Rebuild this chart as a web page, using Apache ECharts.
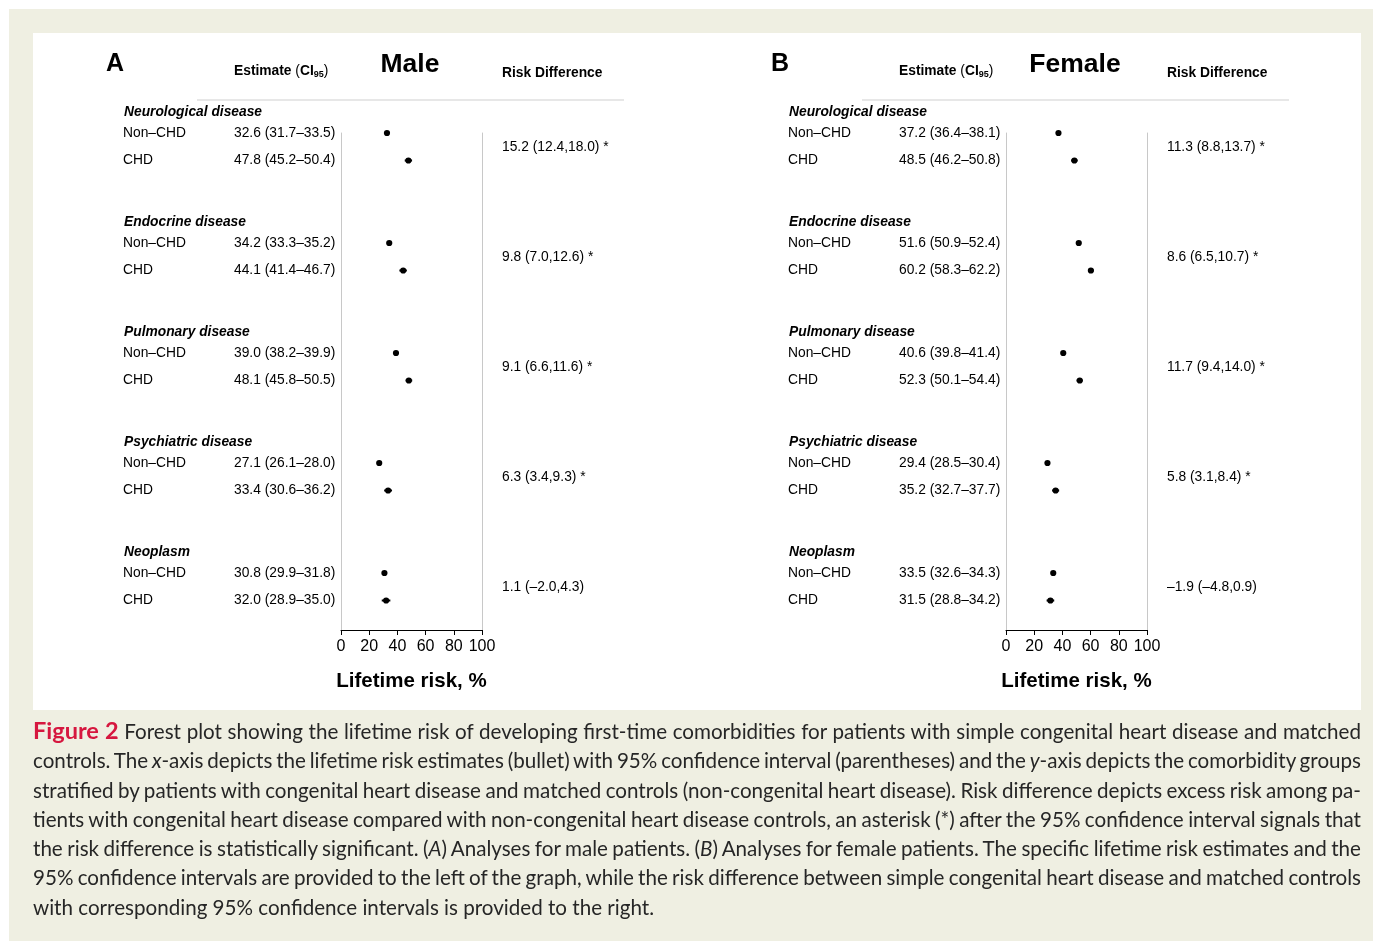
<!DOCTYPE html>
<html>
<head>
<meta charset="utf-8">
<script src="https://cdn.jsdelivr.net/npm/echarts@6/dist/echarts.min.js"></script>
<style>
  html, body { margin: 0; padding: 0; background: #ffffff; width: 1373px; height: 941px; overflow: hidden; }
  #beige { position: absolute; left: 9px; top: 9px; width: 1364px; height: 932px; background: #efefe2; }
  #panel { position: absolute; left: 33px; top: 33px; width: 1328px; height: 677px; background: #ffffff; }
  #chart { position: absolute; left: 0; top: 0; width: 1373px; height: 941px; }
  #cap { position: absolute; left: 33px; top: 716px; width: 1328px; font-family: Lato, "Open Sans", sans-serif; font-size: 20.6px; line-height: 29.3px; color: #262626; }
  #cap div { white-space: nowrap; }
  #cap span.ln { display: inline-block; white-space: nowrap; }
  #cap .fig { color: #d6173f; font-weight: bold; font-size: 23.5px; }
</style>
</head>
<body>
<div id="beige"></div>
<div id="panel"></div>
<div id="chart"></div>
<div id="cap">
  <div><span class="ln j"><span class="fig">Figure 2</span> Forest plot showing the lifetime risk of developing first-time comorbidities for patients with simple congenital heart disease and matched</span></div>
  <div><span class="ln j">controls. The <i>x</i>-axis depicts the lifetime risk estimates (bullet) with 95% confidence interval (parentheses) and the <i>y</i>-axis depicts the comorbidity groups</span></div>
  <div><span class="ln j">stratified by patients with congenital heart disease and matched controls (non-congenital heart disease). Risk difference depicts excess risk among pa-</span></div>
  <div><span class="ln j">tients with congenital heart disease compared with non-congenital heart disease controls, an asterisk (*) after the 95% confidence interval signals that</span></div>
  <div><span class="ln j">the risk difference is statistically significant. (<i>A</i>) Analyses for male patients. (<i>B</i>) Analyses for female patients. The specific lifetime risk estimates and the</span></div>
  <div><span class="ln j">95% confidence intervals are provided to the left of the graph, while the risk difference between simple congenital heart disease and matched controls</span></div>
  <div><span class="ln">with corresponding 95% confidence intervals is provided to the right.</span></div>
</div>
<script>
// justify caption lines by word spacing (keeps the original line breaks)
document.querySelectorAll('#cap span.ln.j').forEach(s => {
  const w = s.getBoundingClientRect().width;
  const spaces = (s.textContent.match(/ /g) || []).length;
  if (spaces > 0) s.style.wordSpacing = ((1328 - w) / spaces) + 'px';
});

// ---------------- DATA ----------------
const categories = ['Neurological disease', 'Endocrine disease', 'Pulmonary disease', 'Psychiatric disease', 'Neoplasm'];
const rowLabels = ['Non\u2013CHD', 'CHD'];
const xTicks = [0, 20, 40, 60, 80, 100];

// [estimate, lower CI95, upper CI95]
const maleNonCHD = [[32.6, 31.7, 33.5], [34.2, 33.3, 35.2], [39.0, 38.2, 39.9], [27.1, 26.1, 28.0], [30.8, 29.9, 31.8]];
const maleCHD    = [[47.8, 45.2, 50.4], [44.1, 41.4, 46.7], [48.1, 45.8, 50.5], [33.4, 30.6, 36.2], [32.0, 28.9, 35.0]];
const maleRiskDiff = [[15.2, 12.4, 18.0], [9.8, 7.0, 12.6], [9.1, 6.6, 11.6], [6.3, 3.4, 9.3], [1.1, -2.0, 4.3]];
const maleSignificant = [true, true, true, true, false];

const femaleNonCHD = [[37.2, 36.4, 38.1], [51.6, 50.9, 52.4], [40.6, 39.8, 41.4], [29.4, 28.5, 30.4], [33.5, 32.6, 34.3]];
const femaleCHD    = [[48.5, 46.2, 50.8], [60.2, 58.3, 62.2], [52.3, 50.1, 54.4], [35.2, 32.7, 37.7], [31.5, 28.8, 34.2]];
const femaleRiskDiff = [[11.3, 8.8, 13.7], [8.6, 6.5, 10.7], [11.7, 9.4, 14.0], [5.8, 3.1, 8.4], [-1.9, -4.8, 0.9]];
const femaleSignificant = [true, true, true, true, false];

// ---------------- LAYOUT ----------------
const FONT = '"Liberation Sans", Arial, Helvetica, sans-serif';
const ROW_PX = 27.5;      // pixels per row unit
const ROW0_Y = 133;       // pixel y of first row
const GRID_TOP = 133, GRID_BOTTOM = 630, GRID_W = 141;
const GRID_LEFTS = [341, 1006];
const pOf = y => (y - ROW0_Y) / ROW_PX;   // convert header pixel y into row units

function fmt(v) { return (v < 0 ? '\u2013' : '') + Math.abs(v).toFixed(1); }
function estText(t) { return fmt(t[0]) + ' (' + fmt(t[1]) + '\u2013' + fmt(t[2]) + ')'; }
function rdText(t, sig) { return fmt(t[0]) + ' (' + fmt(t[1]) + ',' + fmt(t[2]) + ')' + (sig ? ' *' : ''); }

function panel(idx, letter, title, nonCHD, chd, rd, sig) {
  const pts = [];
  const texts = [];
  categories.forEach((cat, g) => {
    const base = 4 * g;
    pts.push([nonCHD[g][0], nonCHD[g][1], nonCHD[g][2], base]);
    pts.push([chd[g][0], chd[g][1], chd[g][2], base + 1]);
    texts.push({ p: base - 0.76, dx: -217, text: cat, font: 'italic bold 13.8px ' + FONT });
    texts.push({ p: base, dx: -218, text: rowLabels[0], font: '13.8px ' + FONT });
    texts.push({ p: base + 1, dx: -218, text: rowLabels[1], font: '13.8px ' + FONT });
    texts.push({ p: base, dx: -107, text: estText(nonCHD[g]), font: '13.8px ' + FONT });
    texts.push({ p: base + 1, dx: -107, text: estText(chd[g]), font: '13.8px ' + FONT });
    texts.push({ p: base + 0.5, dx: 161, text: rdText(rd[g], sig[g]), font: '13.8px ' + FONT });
  });
  // column headers
  texts.push({ p: pOf(64.5), dx: -235, text: letter, font: 'bold 25px ' + FONT });
  texts.push({ p: pOf(73), dx: 161, text: 'Risk Difference', font: 'bold 13.8px ' + FONT });
  texts.push({ p: pOf(64.5), dx: 69, text: title, font: 'bold 26.5px ' + FONT, align: 'center' });
  texts.push({ p: pOf(71), dx: -107, rich: true });

  return [
    {
      type: 'custom', xAxisIndex: idx, yAxisIndex: idx * 2, clip: false, silent: true,
      encode: { x: [0, 1, 2], y: 3 },
      data: pts,
      renderItem: (params, api) => {
        const c = api.coord([api.value(0), api.value(3)]);
        const lo = api.coord([api.value(1), api.value(3)]);
        const hi = api.coord([api.value(2), api.value(3)]);
        const y = c[1];
        return {
          type: 'group', children: [
            { type: 'line', shape: { x1: lo[0], y1: y, x2: hi[0], y2: y }, style: { stroke: '#000', lineWidth: 2 } },
            { type: 'circle', shape: { cx: c[0], cy: y, r: 3.1 }, style: { fill: '#000' } }
          ]
        };
      }
    },
    {
      type: 'custom', xAxisIndex: idx, yAxisIndex: idx * 2, clip: false, silent: true,
      encode: { x: 0, y: 1 },
      data: texts.map(t => [0, t.p]),
      renderItem: (params, api) => {
        const t = texts[params.dataIndex];
        const cs = params.coordSys;
        const y = api.coord([0, api.value(1)])[1];
        if (t.rich) {
          return {
            type: 'text', x: cs.x + t.dx, y: y,
            style: {
              text: '{b|Estimate }{n|(}{b|CI}{s|95}{n|)}',
              verticalAlign: 'middle', align: 'left',
              rich: {
                b: { font: 'bold 13.8px ' + FONT, fill: '#000', lineHeight: 18 },
                n: { font: '13.8px ' + FONT, fill: '#000', lineHeight: 18 },
                s: { font: 'bold 9px ' + FONT, fill: '#000', lineHeight: 18, padding: [8, 0, 0, 0] }
              }
            }
          };
        }
        return {
          type: 'text', x: cs.x + t.dx, y: y,
          style: { text: t.text, font: t.font, fill: '#000', verticalAlign: 'middle', align: t.align || 'left' }
        };
      }
    },
    {
      type: 'custom', xAxisIndex: idx, yAxisIndex: idx * 2, clip: false, silent: true,
      encode: { x: 0, y: 1 },
      data: [[0, pOf(100)]],
      renderItem: (params, api) => {
        const cs = params.coordSys;
        const y = api.coord([0, api.value(1)])[1];
        return { type: 'line', shape: { x1: cs.x - 144, y1: y, x2: cs.x + 283, y2: y }, style: { stroke: '#cfcfcf', lineWidth: 1.2 } };
      }
    }
  ];
}

const yMin = pOf(GRID_TOP), yMax = pOf(GRID_BOTTOM);
const grids = GRID_LEFTS.map(l => ({ left: l, top: GRID_TOP, width: GRID_W, height: GRID_BOTTOM - GRID_TOP }));
const xAxes = GRID_LEFTS.map((l, i) => ({
  type: 'value', gridIndex: i, position: 'bottom', min: xTicks[0], max: xTicks[xTicks.length - 1], interval: xTicks[1] - xTicks[0],
  axisLine: { show: true, onZero: false, lineStyle: { color: '#000', width: 1 } },
  axisTick: { show: true, length: 5, lineStyle: { color: '#000' } },
  axisLabel: { color: '#000', fontSize: 16, fontFamily: FONT, margin: 9 },
  splitLine: { show: false },
  name: 'Lifetime risk, %', nameLocation: 'middle', nameGap: 51,
  nameTextStyle: { color: '#000', fontSize: 20.5, fontWeight: 'bold', fontFamily: FONT, verticalAlign: 'middle' }
}));
const yAxes = [];
GRID_LEFTS.forEach((l, i) => {
  ['left', 'right'].forEach(pos => {
    yAxes.push({
      type: 'value', gridIndex: i, position: pos, inverse: true, min: yMin, max: yMax,
      axisLine: { show: true, onZero: false, lineStyle: { color: '#c8c8c8', width: 1 } },
      axisTick: { show: false }, axisLabel: { show: false }, splitLine: { show: false }
    });
  });
});

const chart = echarts.init(document.getElementById('chart'), null, { renderer: 'canvas' });
chart.setOption({
  animation: false,
  grid: grids,
  xAxis: xAxes,
  yAxis: yAxes,
  series: [].concat(
    panel(0, 'A', 'Male', maleNonCHD, maleCHD, maleRiskDiff, maleSignificant),
    panel(1, 'B', 'Female', femaleNonCHD, femaleCHD, femaleRiskDiff, femaleSignificant)
  )
});
</script>
</body>
</html>
